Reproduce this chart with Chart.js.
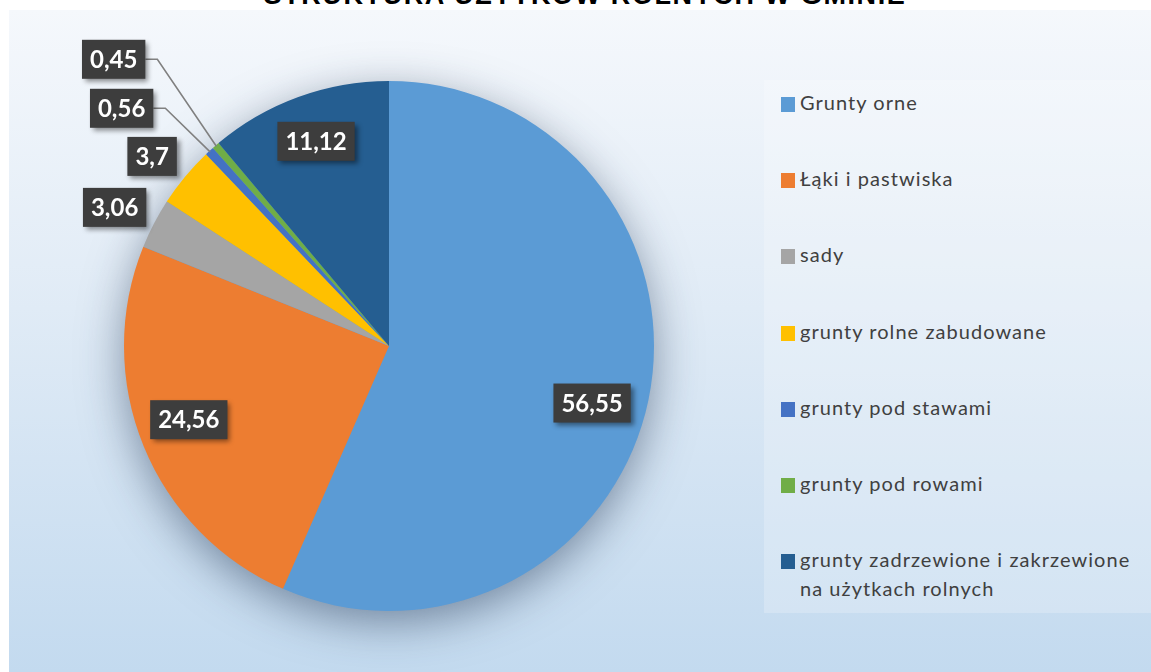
<!DOCTYPE html>
<html>
<head>
<meta charset="utf-8">
<script src="https://cdn.jsdelivr.net/npm/chart.js@4.4.1/dist/chart.umd.min.js"></script>
<style>
  html, body { margin: 0; padding: 0; background: #fff; }
  #wrap { position: relative; width: 1151px; height: 672px; overflow: hidden; background: #fff; }
  #bg { position: absolute; left: 9px; top: 10px; right: 0; bottom: 0;
        background: linear-gradient(to bottom, #f5f8fc 0%, #e0ebf6 45%, #c3daef 100%); }
  #title { position: absolute; left: 0; width: 1170px; top: -18px; text-align: center;
           font: bold 27px "Liberation Sans", Arial, sans-serif; color: #000; letter-spacing: 1.6px; line-height: 27px; }
  #chart { position: absolute; left: 0; top: 0; }
  #legend { position: absolute; left: 764px; top: 80px; width: 387px; height: 533px;
            background: rgba(255,255,255,0.22); }
  .item { position: absolute; left: 17px; font: 20px Lato, sans-serif; color: #404040; line-height: 29px;
          letter-spacing: 1.05px; }
  .item .sw { position: absolute; left: 0; top: 7px; width: 14px; height: 15px; }
  .item .tx { position: absolute; left: 19px; top: -2px; white-space: nowrap; }
</style>
</head>
<body>
<div id="wrap">
  <div id="bg"></div>
  <div id="title">STRUKTURA UŻYTKÓW ROLNYCH W GMINIE</div>
  <div id="legend"></div>
  <canvas id="chart" width="1151" height="672"></canvas>
</div>
<script>
const categories = [
  "Grunty orne",
  "Łąki i pastwiska",
  "sady",
  "grunty rolne zabudowane",
  "grunty pod stawami",
  "grunty pod rowami",
  "grunty zadrzewione i zakrzewione na użytkach rolnych",
];
const shares = [56.55, 24.56, 3.06, 3.7, 0.56, 0.45, 11.12];
const valueLabels = ["56,55", "24,56", "3,06", "3,7", "0,56", "0,45", "11,12"];
const legendLines = [
  ["Grunty orne"],
  ["Łąki i pastwiska"],
  ["sady"],
  ["grunty rolne zabudowane"],
  ["grunty pod stawami"],
  ["grunty pod rowami"],
  ["grunty zadrzewione i zakrzewione", "na użytkach rolnych"],
];

const colors = ["#5b9bd5", "#ed7d31", "#a5a5a5", "#ffc000", "#4472c4", "#70ad47", "#255e91"];

// label placement: [radius factor, angle offset in degrees from slice middle]
const labelPlace = [[0.796, 3.9], [0.805, 2], [1.16, -0.7], [1.145, -1], [1.35, -5.7], [1.5, -3], [0.82, 0.4]];
const withLeader = [false, false, false, false, true, true, false];

function buildLegend() {
  const legend = document.getElementById("legend");
  legend.innerHTML = legendLines
    .map((lines, i) => {
      let top = 10 + i * 76.2;
      return `<div class="item" style="top:${top}px">
        <span class="sw" style="background:${colors[i]}"></span>
        <span class="tx">${lines.join("<br>")}</span></div>`;
    })
    .join("");
}

const pieShadow = {
  id: "pieShadow",
  beforeDatasetsDraw(chart) {
    const arc = chart.getDatasetMeta(0).data[0];
    if (!arc) return;
    const { x, y, outerRadius } = arc.getProps(["x", "y", "outerRadius"], true);
    const ctx = chart.ctx;
    ctx.save();
    ctx.shadowColor = "rgba(40,60,90,0.55)";
    ctx.shadowBlur = 45;
    ctx.shadowOffsetY = 12;
    ctx.fillStyle = colors[0];
    ctx.beginPath();
    ctx.arc(x, y, outerRadius - 1, 0, Math.PI * 2);
    ctx.fill();
    ctx.restore();
  },
};

const boxLabels = {
  id: "boxLabels",
  afterDatasetsDraw(chart) {
    const ctx = chart.ctx;
    const meta = chart.getDatasetMeta(0);
    ctx.save();
    ctx.font = "bold 24px Lato, sans-serif";
    ctx.textAlign = "center";
    ctx.textBaseline = "middle";
    meta.data.forEach((arc, i) => {
      const { x, y, startAngle, endAngle, outerRadius } = arc.getProps(
        ["x", "y", "startAngle", "endAngle", "outerRadius"], true);
      const mid = (startAngle + endAngle) / 2;
      const [f, off] = labelPlace[i];
      const a = mid + (off * Math.PI) / 180;
      const cx = x + Math.cos(a) * outerRadius * f;
      const cy = y + Math.sin(a) * outerRadius * f;
      const w = ctx.measureText(valueLabels[i]).width + 16;
      const h = 39;

      if (withLeader[i]) {
        const ex = x + Math.cos(mid) * (outerRadius - 1);
        const ey = y + Math.sin(mid) * (outerRadius - 1);
        ctx.strokeStyle = "#808080";
        ctx.lineWidth = 1.6;
        ctx.beginPath();
        ctx.moveTo(cx + w / 2, cy);
        ctx.lineTo(cx + w / 2 + 12, cy);
        ctx.lineTo(ex, ey);
        ctx.stroke();
      }

      ctx.shadowColor = "rgba(0,0,0,0.45)";
      ctx.shadowBlur = 5;
      ctx.shadowOffsetX = 3;
      ctx.shadowOffsetY = 3;
      ctx.fillStyle = "#3d3d3d";
      ctx.fillRect(cx - w / 2, cy - h / 2, w, h);
      ctx.shadowColor = "transparent";
      ctx.fillStyle = "#ffffff";
      ctx.fillText(valueLabels[i], cx, cy + 1);
    });
    ctx.restore();
  },
};

buildLegend();

new Chart(document.getElementById("chart"), {
  type: "pie",
  data: {
    labels: categories,
    datasets: [
      {
        data: shares,
        backgroundColor: colors,
        borderWidth: 0,
      },
    ],
  },
  options: {
    responsive: false,
    animation: false,
    layout: { padding: { left: 124, top: 81, right: 497, bottom: 61 } },
    plugins: {
      legend: { display: false },
      tooltip: { enabled: false },
    },
  },
  plugins: [pieShadow, boxLabels],
});
</script>
</body>
</html>
